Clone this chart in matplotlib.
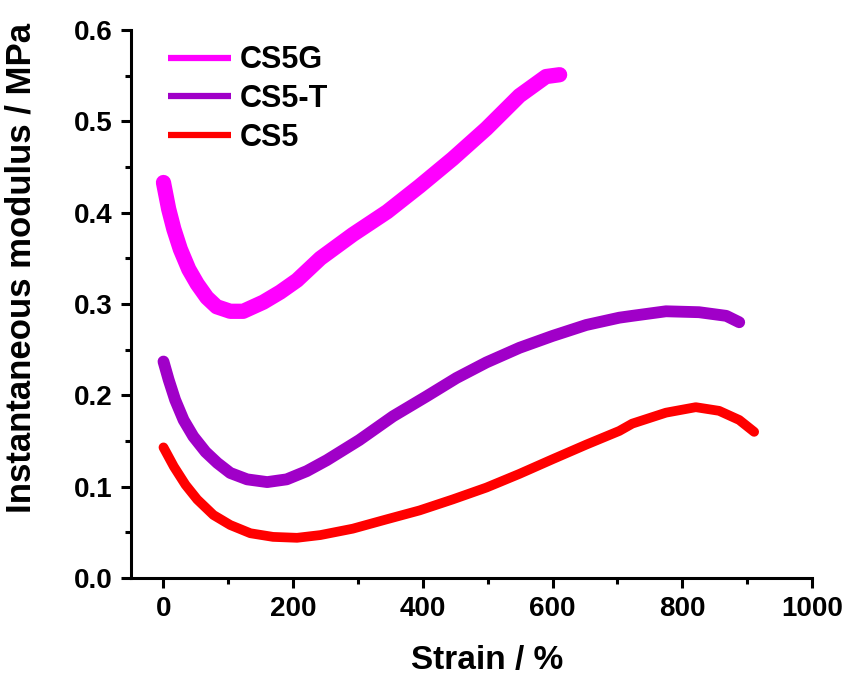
import matplotlib
matplotlib.use('Agg')
import matplotlib.pyplot as plt
from matplotlib.ticker import MultipleLocator

# data
cs5g_strain = [0, 8, 16, 26, 39, 52, 67, 82, 103, 123, 154, 180, 206, 242, 292, 345, 395, 446,
               498, 549, 590, 611]
cs5g_modulus = [0.433, 0.404, 0.382, 0.360, 0.338, 0.322, 0.307, 0.297, 0.292, 0.292, 0.302, 0.313,
                0.326, 0.350, 0.376, 0.401, 0.429, 0.459, 0.492, 0.528, 0.549, 0.551]

cs5t_strain = [0, 8, 18, 31, 46, 65, 83, 103, 129, 160, 190, 221, 252, 302, 354, 406, 452, 498,
               549, 600, 652, 703, 723, 775, 826, 868, 888]
cs5t_modulus = [0.237, 0.217, 0.195, 0.173, 0.155, 0.138, 0.126, 0.115, 0.108, 0.105, 0.108, 0.117,
                0.129, 0.151, 0.177, 0.199, 0.219, 0.236, 0.252, 0.265, 0.277, 0.285, 0.287,
                0.292, 0.291, 0.287, 0.280]

cs5_strain = [0, 16, 34, 52, 77, 103, 134, 169, 206, 242, 292, 343, 395, 446, 498, 549, 600, 652,
              703, 723, 775, 821, 857, 888, 911]
cs5_modulus = [0.143, 0.122, 0.102, 0.086, 0.069, 0.058, 0.049, 0.045, 0.044, 0.047, 0.054, 0.064,
               0.074, 0.086, 0.099, 0.114, 0.130, 0.146, 0.161, 0.169, 0.181, 0.187, 0.183,
               0.173, 0.160]

labels = ['CS5G', 'CS5-T', 'CS5']
colors = ['#FF00FF', '#A000C8', '#FF0000']

plt.rcParams['font.family'] = ['Liberation Sans', 'DejaVu Sans']
plt.rcParams['font.weight'] = 'bold'

fig = plt.figure(figsize=(8.51, 6.78), dpi=100)
ax = fig.add_axes([0.154, 0.1475, 0.8, 0.8083])

ax.plot(cs5g_strain, cs5g_modulus, color=colors[0], lw=11, solid_capstyle='round',
        solid_joinstyle='round', label=labels[0])
ax.plot(cs5t_strain, cs5t_modulus, color=colors[1], lw=8.5, solid_capstyle='round',
        solid_joinstyle='round', label=labels[1])
ax.plot(cs5_strain, cs5_modulus, color=colors[2], lw=7, solid_capstyle='round',
        solid_joinstyle='round', label=labels[2])

ax.set_xlim(-50, 1000)
ax.set_ylim(0, 0.6)
ax.xaxis.set_major_locator(MultipleLocator(200))
ax.xaxis.set_minor_locator(MultipleLocator(100))
ax.yaxis.set_major_locator(MultipleLocator(0.1))
ax.yaxis.set_minor_locator(MultipleLocator(0.05))
ax.yaxis.set_major_formatter(plt.FormatStrFormatter('%.1f'))

for side in ['top', 'right']:
    ax.spines[side].set_visible(False)
for side in ['left', 'bottom']:
    ax.spines[side].set_linewidth(2.2)

ax.tick_params(which='major', direction='out', length=7, width=2.2, labelsize=20, pad=6)
ax.tick_params(which='minor', direction='out', length=4, width=2.2)
for lab in ax.get_xticklabels() + ax.get_yticklabels():
    lab.set_fontweight('bold')

ax.set_xlabel('Strain / %', fontsize=24, fontweight='bold')
ax.set_ylabel('Instantaneous modulus / MPa', fontsize=25, fontweight='bold')
ax.xaxis.set_label_coords(0.523, -0.122)
ax.yaxis.set_label_coords(-0.138, 0.566)

leg = ax.legend(loc='upper left', bbox_to_anchor=(0.014, 1.022), frameon=False,
                prop={'size': 22, 'weight': 'bold'}, handlelength=2.05, handletextpad=0.28,
                labelspacing=0.28)
for h in leg.legend_handles:
    h.set_linewidth(4.5)
    h.set_solid_capstyle('butt')

fig.savefig('out.png', dpi=100)
